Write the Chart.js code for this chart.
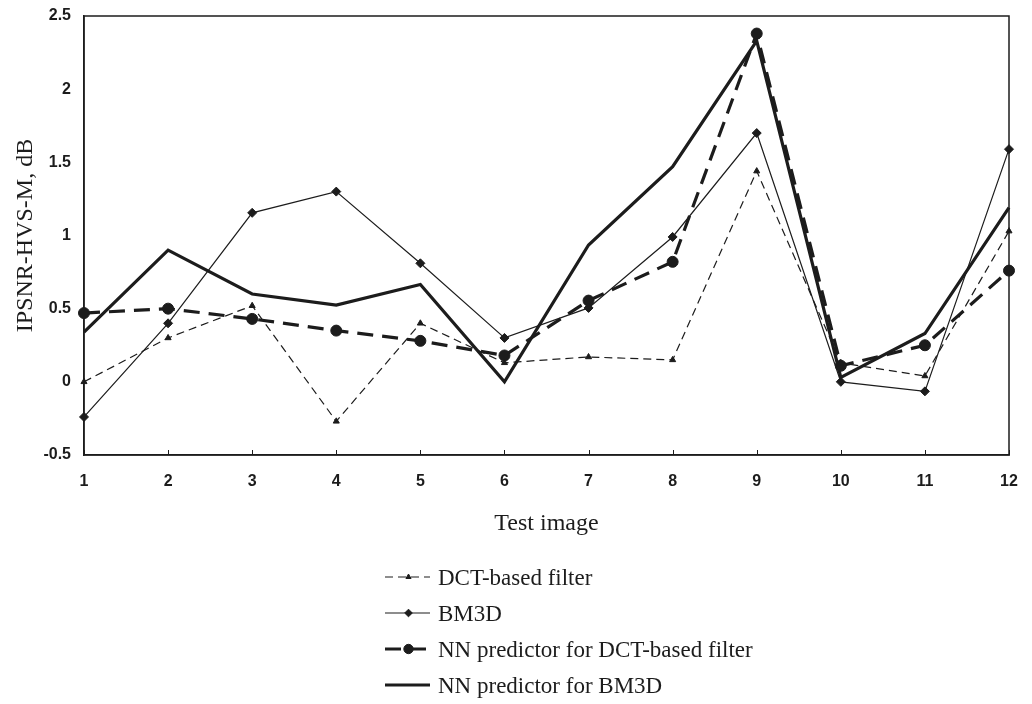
<!DOCTYPE html>
<html>
<head>
<meta charset="utf-8">
<script src="https://cdn.jsdelivr.net/npm/chart.js@4"></script>
<style>html,body{margin:0;padding:0;background:#fff}</style>
</head>
<body>
<canvas id="c" width="1032" height="704" style="display:block;width:1032px;height:704px"></canvas>
<script>
const categories = ['1','2','3','4','5','6','7','8','9','10','11','12'];
const dctFilter = [0.00, 0.30, 0.52, -0.27, 0.40, 0.13, 0.17, 0.15, 1.44, 0.13, 0.04, 1.03];
const bm3d      = [-0.24, 0.40, 1.155, 1.30, 0.81, 0.30, 0.505, 0.99, 1.70, 0.00, -0.065, 1.59];
const nnDct     = [0.47, 0.50, 0.43, 0.35, 0.28, 0.18, 0.555, 0.82, 2.38, 0.11, 0.25, 0.76];
const nnBm3d    = [0.34, 0.90, 0.60, 0.525, 0.665, 0.00, 0.935, 1.47, 2.33, 0.03, 0.33, 1.19];
const seriesNames = ['DCT-based filter', 'BM3D', 'NN predictor for DCT-based filter', 'NN predictor for BM3D'];
const yTicks = [-0.5, 0, 0.5, 1, 1.5, 2, 2.5];
const xTitle = 'Test image';
const yTitle = 'IPSNR-HVS-M, dB';

const INK = '#1c1c1c';
const SERIF = "'Liberation Serif','Times New Roman',serif";
const SANS = "'Liberation Sans',Arial,sans-serif";

const framePlugin = {
  id: 'frame',
  beforeDatasetsDraw(chart) {
    const {ctx, chartArea: a} = chart;
    ctx.save();
    ctx.strokeStyle = INK;
    ctx.lineWidth = 1.5;
    ctx.strokeRect(a.left, a.top, a.right - a.left, a.bottom - a.top);
    const xs = chart.scales.x;
    ctx.lineWidth = 1;
    ctx.beginPath();
    for (let i = 0; i < xs.ticks.length; i++) {
      const px = Math.round(xs.getPixelForTick(i)) + 0.5;
      ctx.moveTo(px, a.bottom);
      ctx.lineTo(px, a.bottom - 5);
    }
    ctx.stroke();
    ctx.restore();
  }
};

const legendPlugin = {
  id: 'customLegend',
  afterDraw(chart) {
    const ctx = chart.ctx;
    const x0 = 385, x1 = 430, tx = 438;
    const baselines = [585, 621, 657, 693];
    ctx.save();
    chart.data.datasets.forEach((ds, i) => {
      const bl = baselines[i];
      const ly = bl - 8;
      ctx.strokeStyle = ds.borderColor;
      ctx.lineWidth = ds.borderWidth;
      ctx.setLineDash(ds.borderDash || []);
      ctx.beginPath();
      ctx.moveTo(x0, ly);
      ctx.lineTo(x1, ly);
      ctx.stroke();
      ctx.setLineDash([]);
      if (ds.pointRadius > 0) {
        ctx.fillStyle = ds.pointBackgroundColor;
        ctx.strokeStyle = ds.pointBorderColor;
        ctx.lineWidth = 1;
        Chart.helpers.drawPoint(ctx, {pointStyle: ds.pointStyle, radius: ds.pointRadius * 0.85, rotation: 0, borderWidth: 1}, (x0 + x1) / 2 + 1, ly);
      }
      ctx.fillStyle = INK;
      ctx.font = '23px ' + SERIF;
      ctx.textAlign = 'left';
      ctx.textBaseline = 'alphabetic';
      ctx.fillText(ds.label, tx, bl);
    });
    ctx.restore();
  }
};

function mk(label, data, opts) {
  return Object.assign({
    label, data,
    borderColor: INK,
    backgroundColor: INK,
    pointBackgroundColor: INK,
    pointBorderColor: INK,
    pointBorderWidth: 1,
    tension: 0,
    fill: false,
    clip: false
  }, opts);
}

function noEdgePad(s) {
  s.paddingTop = 0; s.paddingBottom = 0; s.paddingLeft = 0; s.paddingRight = 0;
}

new Chart(document.getElementById('c'), {
  type: 'line',
  data: {
    labels: categories,
    datasets: [
      mk(seriesNames[0], dctFilter, {borderWidth: 1.2, borderDash: [8, 5], pointStyle: 'triangle', pointRadius: 3.5}),
      mk(seriesNames[1], bm3d, {borderWidth: 1.2, borderDash: [], pointStyle: 'rectRot', pointRadius: 4.5}),
      mk(seriesNames[2], nnDct, {borderWidth: 3.2, borderDash: [16, 9], pointStyle: 'circle', pointRadius: 5.5}),
      mk(seriesNames[3], nnBm3d, {borderWidth: 3.2, borderDash: [], pointStyle: 'circle', pointRadius: 0})
    ]
  },
  options: {
    responsive: false,
    animation: false,
    events: [],
    layout: {padding: {left: 0, top: 16, right: 23, bottom: 166}},
    plugins: {legend: {display: false}, tooltip: {enabled: false}},
    scales: {
      x: {
        type: 'category',
        offset: false,
        grid: {display: false, drawTicks: false},
        border: {display: true, color: INK, width: 1.5},
        ticks: {color: INK, padding: 17, font: {family: SANS, size: 16, weight: 'bold'}, maxRotation: 0, autoSkip: false},
        title: {display: true, text: xTitle, color: INK, font: {family: SERIF, size: 24}, padding: {top: 0, bottom: 0}},
        afterFit(s) { s.height = 83; noEdgePad(s); }
      },
      y: {
        min: -0.5, max: 2.5,
        grid: {display: false, drawTicks: false},
        border: {display: true, color: INK, width: 1.5},
        afterBuildTicks(s) { s.ticks = yTicks.map(v => ({value: v})); },
        ticks: {color: INK, padding: 13, font: {family: SANS, size: 16, weight: 'bold'}, callback: v => String(v)},
        title: {display: true, text: yTitle, color: INK, font: {family: SERIF, size: 24}, padding: {top: 11, bottom: 0}},
        afterFit(s) { s.width = 84; noEdgePad(s); }
      }
    }
  },
  plugins: [framePlugin, legendPlugin]
});
</script>
</body>
</html>
